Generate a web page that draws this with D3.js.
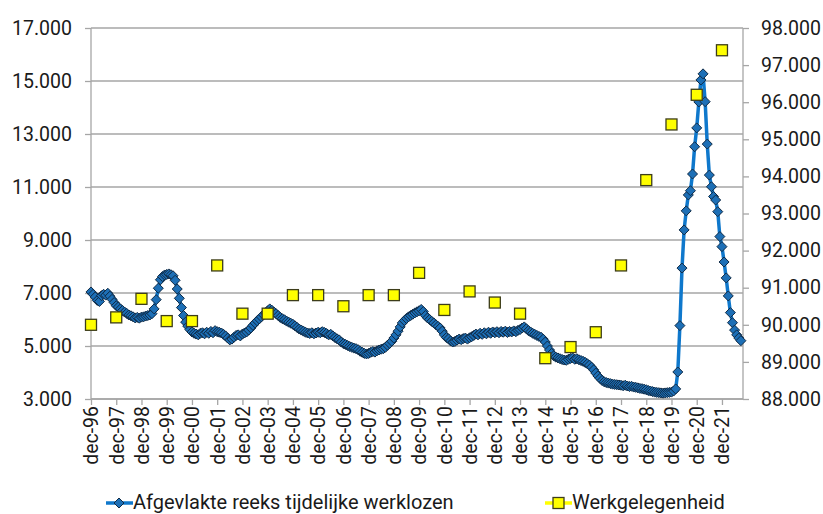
<!DOCTYPE html>
<html>
<head>
<meta charset="utf-8">
<script src="https://cdn.jsdelivr.net/npm/d3@7"></script>
<style>
body { margin: 0; background: #fff; }
text { font-family: Roboto, "Noto Sans", sans-serif; fill: #1a1a1a; }
</style>
</head>
<body>
<script>
// tick labels, one per december
var tickLabels = ["dec-96","dec-97","dec-98","dec-99","dec-00","dec-01","dec-02","dec-03","dec-04",
	"dec-05","dec-06","dec-07","dec-08","dec-09","dec-10","dec-11","dec-12","dec-13","dec-14",
	"dec-15","dec-16","dec-17","dec-18","dec-19","dec-20","dec-21"];

// monthly, dec-96 .. sep-22
var werklozen = [
	7040,
	6950, 6850, 6720, 6680, 6900, 6950, 6920, 6990, 6880, 6760, 6640, 6520,
	6470, 6400, 6340, 6280, 6230, 6170, 6140, 6100, 6060, 6080, 6050, 6090,
	6100, 6130, 6150, 6170, 6220, 6400, 6750, 7180, 7500, 7620, 7680, 7700,
	7720, 7690, 7650, 7480, 7150, 6800, 6450, 6150, 5900, 5750, 5620, 5530,
	5480, 5450, 5420, 5480, 5500, 5460, 5520, 5480, 5550, 5500, 5580, 5540,
	5520, 5490, 5440, 5380, 5300, 5230, 5260, 5330, 5400, 5420, 5380, 5450,
	5490, 5530, 5600, 5680, 5780, 5870, 5950, 6020, 6100, 6180, 6250, 6330,
	6400, 6350, 6280, 6220, 6150, 6080, 6030, 5990, 5940, 5900, 5860, 5820,
	5760, 5700, 5640, 5600, 5560, 5520, 5490, 5470, 5500, 5460, 5490, 5520,
	5500, 5540, 5510, 5470, 5420, 5440, 5380, 5320, 5270, 5230, 5150, 5090,
	5060, 5020, 4980, 4950, 4920, 4900, 4860, 4800, 4760, 4720, 4700, 4720,
	4760, 4790, 4770, 4820, 4850, 4880, 4900, 4950, 5030, 5100, 5180, 5300,
	5420, 5560, 5720, 5870, 5960, 6040, 6100, 6150, 6200, 6250, 6290, 6330,
	6380, 6300, 6150, 6060, 6000, 5930, 5870, 5800, 5740, 5680, 5560, 5420,
	5320, 5270, 5190, 5150, 5170, 5220, 5260, 5240, 5280, 5300, 5260, 5310,
	5350, 5400, 5450, 5420, 5480, 5440, 5500, 5460, 5520, 5480, 5530, 5500,
	5540, 5500, 5550, 5520, 5560, 5510, 5550, 5530, 5570, 5540, 5590, 5620,
	5680, 5720, 5650, 5580, 5530, 5480, 5440, 5400, 5360, 5330, 5260, 5150,
	5000, 4850, 4720, 4630, 4580, 4550, 4520, 4490, 4470, 4460, 4500, 4530,
	4550, 4500, 4520, 4480, 4450, 4420, 4380, 4330, 4280, 4200, 4100, 3980,
	3870, 3780, 3700, 3650, 3620, 3600, 3580, 3560, 3550, 3540, 3530, 3520,
	3500, 3520, 3490, 3470, 3480, 3450, 3440, 3420, 3400, 3390, 3370, 3350,
	3320, 3300, 3280, 3260, 3250, 3240, 3230, 3220, 3230, 3240, 3250, 3260,
	3300, 3380, 4020, 5770, 7940, 9380, 10100, 10700, 10860, 11490, 12520, 13230,
	14210, 15040, 15270, 14220, 12620, 11450, 11010, 10640, 10510, 10070, 9130, 8750,
	8170, 7570, 6890, 6260, 5880, 5600, 5420, 5300, 5200
];

// one value per december
var werkgelegenheid = [90000, 90200, 90700, 90100, 90100, 91600, 90300, 90300, 90800, 90800,
	90500, 90800, 90800, 91400, 90400, 90900, 90600, 90300, 89100, 89400,
	89800, 91600, 93900, 95400, 96200, 97400];

var leftTicks = [3000, 5000, 7000, 9000, 11000, 13000, 15000, 17000];
var rightTicks = [88000, 89000, 90000, 91000, 92000, 93000, 94000, 95000, 96000, 97000, 98000];

var nl = d3.formatLocale({decimal: ",", thousands: ".", grouping: [3], currency: ["€", ""]});
var fmt = nl.format(",.0f");

var svg = d3.select("body").append("svg")
	.attr("width", 823)
	.attr("height", 514);

var x = d3.scaleLinear().domain([0, 310]).range([91, 743]);
var yL = d3.scaleLinear().domain([3000, 17000]).range([399, 28]);
var yR = d3.scaleLinear().domain([88000, 98000]).range([399, 28]);

// gridlines
svg.append("g").selectAll("line")
	.data(leftTicks)
	.enter().append("line")
	.attr("x1", 91).attr("x2", 743)
	.attr("y1", function(d){ return yL(d); })
	.attr("y2", function(d){ return yL(d); })
	.attr("stroke", "#a6a6a6")
	.attr("stroke-width", 1.3);

var axL = svg.append("g").attr("transform", "translate(91,0)")
	.call(d3.axisLeft(yL).tickValues(leftTicks).tickSize(6).tickPadding(13).tickFormat(fmt));
var axR = svg.append("g").attr("transform", "translate(743,0)")
	.call(d3.axisRight(yR).tickValues(rightTicks).tickSize(6).tickPadding(12).tickFormat(fmt));
var axB = svg.append("g").attr("transform", "translate(0,399)")
	.call(d3.axisBottom(x).tickValues(d3.range(0, 301, 12)).tickSize(6).tickFormat(function(d, i){ return tickLabels[i]; }));

[axL, axR, axB].forEach(function(a){
	a.selectAll(".domain").attr("stroke", "#a6a6a6").attr("stroke-width", 1.3);
	a.selectAll(".tick line").attr("stroke", "#a6a6a6").attr("stroke-width", 1.3);
	a.selectAll("text").style("font-size", "19.5px").attr("fill", "#1a1a1a");
});
axL.select(".domain").attr("d", "M0,28V399");
axR.select(".domain").attr("d", "M0,28V399");
axB.select(".domain").attr("d", "M91,0H743");

axB.selectAll("text")
	.attr("transform", "rotate(-90)")
	.attr("text-anchor", "end")
	.attr("x", -7)
	.attr("y", 0)
	.attr("dy", "0.35em");

// line series
var line = d3.line()
	.x(function(d, i){ return x(i); })
	.y(function(d){ return yL(d); });

svg.append("path")
	.datum(werklozen)
	.attr("fill", "none")
	.attr("stroke", "#0f78cc")
	.attr("stroke-width", 3.5)
	.attr("d", line);

function diamond(r){ return "M0," + (-r) + "L" + r + ",0L0," + r + "L" + (-r) + ",0Z"; }

svg.append("g").selectAll("path")
	.data(werklozen)
	.enter().append("path")
	.attr("transform", function(d, i){ return "translate(" + x(i) + "," + yL(d) + ")"; })
	.attr("d", diamond(5))
	.attr("fill", "#1d6fb6")
	.attr("stroke", "#0f2a45")
	.attr("stroke-width", 1);

// squares
svg.append("g").selectAll("rect")
	.data(werkgelegenheid)
	.enter().append("rect")
	.attr("x", function(d, i){ return x(i * 12) - 5.5; })
	.attr("y", function(d){ return yR(d) - 5.5; })
	.attr("width", 11)
	.attr("height", 11)
	.attr("fill", "#ffff00")
	.attr("stroke", "#3d3d1a")
	.attr("stroke-width", 1.3);

// legend
var lg = svg.append("g");
lg.append("line").attr("x1", 106).attr("x2", 133).attr("y1", 503).attr("y2", 503)
	.attr("stroke", "#0f78cc").attr("stroke-width", 3.5);
lg.append("path").attr("transform", "translate(119,503)").attr("d", diamond(5))
	.attr("fill", "#1d6fb6").attr("stroke", "#0f2a45");
lg.append("text").attr("x", 133).attr("y", 509).style("font-size", "20px")
	.text("Afgevlakte reeks tijdelijke werklozen");

lg.append("line").attr("x1", 545).attr("x2", 572).attr("y1", 503).attr("y2", 503)
	.attr("stroke", "#ffff00").attr("stroke-width", 3.5);
lg.append("rect").attr("x", 553).attr("y", 497.5).attr("width", 11).attr("height", 11)
	.attr("fill", "#ffff00").attr("stroke", "#3d3d1a").attr("stroke-width", 1.3);
lg.append("text").attr("x", 572).attr("y", 509).style("font-size", "20px")
	.text("Werkgelegenheid");
</script>
</body>
</html>
